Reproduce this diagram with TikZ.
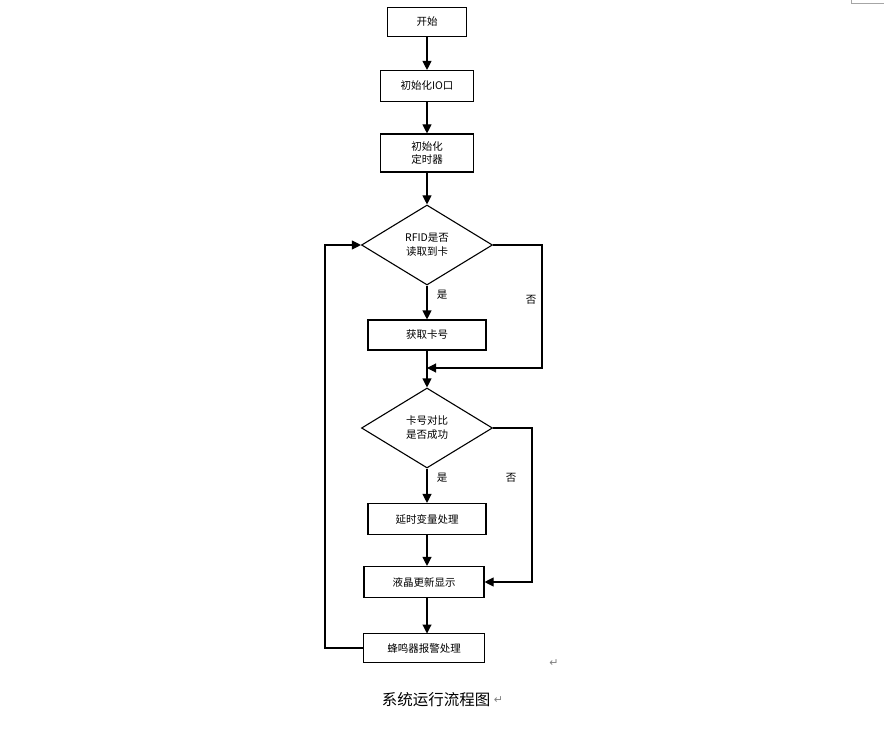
\documentclass[tikz,border=0pt]{standalone}
\usepackage{fontspec}
\setmainfont{Noto Sans CJK SC}
\newfontfamily\dvs{DejaVu Sans}
\usetikzlibrary{shapes.geometric,arrows.meta}
\begin{document}
\begin{tikzpicture}[x=1pt,y=-1pt,
  box/.style={draw,line width=1.1pt,minimum height=#1,inner sep=0pt,font=\fontsize{10.5}{13}\selectfont,align=center},
  dia/.style={draw,line width=1.1pt,diamond,minimum width=131pt,minimum height=80pt,inner sep=0pt,aspect=1.64,font=\fontsize{10.5}{14}\selectfont,align=center},
  ar/.style={line width=1.1pt,-{Triangle[length=9pt,width=9pt]}},
  ln/.style={line width=1.1pt},
  lbl/.style={font=\fontsize{10.5}{13}\selectfont}]
\useasboundingbox (0,0) rectangle (891,730);
\draw[gray!70,line width=0.6pt] (851,0) -- (851,3) -- (884,3);
\node[box=29pt,minimum width=79pt] (s) at (427,22) {开始};
\node[box=31pt,minimum width=93pt] (io) at (427,86) {初始化IO口};
\node[box=38pt,minimum width=93pt] (t) at (427,153) {初始化\\定时器};
\node[dia] (d1) at (427,245) {RFID是否\\读取到卡};
\node[box=30pt,minimum width=118pt] (g) at (427,335) {获取卡号};
\coordinate (m) at (427,368);
\node[dia] (d2) at (427,428) {卡号对比\\是否成功};
\node[box=31pt,minimum width=118pt] (y) at (427,519) {延时变量处理};
\node[box=31pt,minimum width=120pt] (l) at (424,582) {液晶更新显示};
\node[box=29pt,minimum width=121pt] (b) at (424,648) {蜂鸣器报警处理};
\draw[ar] (s) -- (io);
\draw[ar] (io) -- (t);
\draw[ar] (t) -- (d1);
\draw[ar] (d1) -- (g);
\draw[ln] (g) -- (m);
\draw[ar] (d1.east) -- (542,245) -- (542,368) -- (m);
\draw[ar] (m) -- (d2);
\draw[ar] (d2) -- (y);
\draw[ar] (y.south) -- (y.south |- l.north);
\draw[ar] (d2.east) -- (532,428) -- (532,582) -- (l.east);
\draw[ar] (l.south -| 427,0) -- (427,633.5);
\draw[ar] (b.west) -- (325,648) -- (325,245) -- (d1.west);
\node[lbl] (y1) at (442,295) {是};
\node[lbl] (n1) at (531,300) {否};
\node[lbl] (y2) at (442,478) {是};
\node[lbl] (n2) at (511,478) {否};
\node[gray,font=\dvs\fontsize{11}{11}\selectfont] (r1) at (554,663) {↵};
\node[font=\fontsize{15.5}{18}\selectfont] (cap) at (436,700) {系统运行流程图};
\node[gray,font=\dvs\fontsize{11}{11}\selectfont,anchor=west,inner sep=0pt] (r2) at (cap.east) {↵};
\end{tikzpicture}
\end{document}
